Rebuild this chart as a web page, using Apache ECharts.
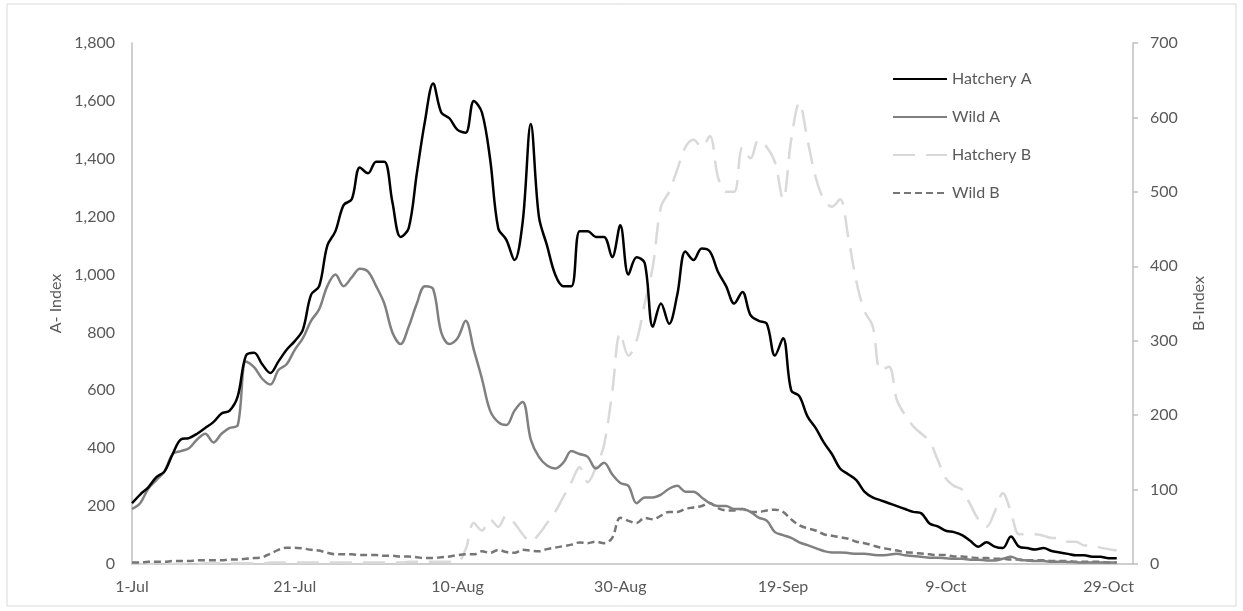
<!DOCTYPE html>
<html>
<head>
<meta charset="utf-8">
<script src="https://cdn.jsdelivr.net/npm/echarts@6/dist/echarts.min.js"></script>
<style>
html,body{margin:0;padding:0;background:#fff;}
#chart{width:1243px;height:611px;}
</style>
</head>
<body>
<div id="chart"></div>
<script>
// Daily categories 1-Jul .. 1-Nov
const months = ['Jul','Aug','Sep','Oct','Nov'];
const monthDays = [31,31,30,31,1];
const categories = [];
months.forEach(function(m,i){ for(let d=1; d<=monthDays[i]; d++){ categories.push(d+'-'+m); } });

const tickLabels = ['1-Jul','21-Jul','10-Aug','30-Aug','19-Sep','9-Oct','29-Oct'];

const hatcheryA = [210,240,265,300,320,380,430,435,450,470,490,520,530,580,720,730,690,660,700,740,
  770,810,930,960,1100,1150,1240,1260,1370,1350,1390,1390,1250,1130,1160,1350,1530,1660,1560,1540,
  1500,1490,1600,1560,1400,1160,1120,1050,1180,1520,1200,1100,1000,960,960,1150,1150,1130,1130,1060,
  1170,1000,1060,1040,820,900,830,930,1080,1050,1090,1080,1010,960,900,940,860,840,830,720,
  780,600,580,510,470,420,380,330,310,290,250,230,220,210,200,190,180,175,140,130,
  115,110,100,80,60,75,60,55,95,60,55,50,55,45,40,35,30,30,25,25,20,20];

const wildA = [190,210,260,290,320,380,390,400,430,450,420,450,470,480,700,680,640,620,670,690,
  740,780,840,880,960,1000,960,990,1020,1010,960,900,800,760,820,900,960,950,800,760,
  780,840,740,640,530,490,480,530,560,430,370,340,330,350,390,380,370,330,350,310,
  280,270,210,230,230,240,260,270,250,250,230,210,200,200,190,190,180,160,150,110,
  100,90,75,65,55,45,40,40,38,35,35,32,30,32,35,30,28,25,22,22,
  20,18,18,15,15,12,12,18,25,15,12,10,10,8,8,7,6,5,5,5,5,5];

const hatcheryB = [0,0,0,0,0,0,0,0,0,1,1,1,1,1,1,1,1,2,2,2,
  2,2,2,2,2,2,2,2,2,2,2,2,2,2,3,3,3,3,3,3,
  3,20,55,45,60,50,65,55,40,30,40,55,70,90,110,130,110,130,160,230,
  310,280,300,350,400,480,500,530,560,570,560,575,520,500,500,560,545,570,560,540,
  490,570,620,570,520,490,480,490,440,380,340,320,260,265,220,200,185,175,165,140,
  115,105,100,80,60,50,70,95,70,40,40,40,38,35,35,30,30,25,25,22,20,18];

const wildB = [2,2,3,3,3,4,4,4,5,5,5,5,6,6,7,8,9,14,19,22,
  22,21,19,18,15,13,13,13,12,12,12,11,11,10,10,9,8,8,9,10,
  12,13,13,17,15,19,16,15,19,18,17,20,22,24,26,29,28,30,28,35,
  62,58,55,62,60,65,70,70,74,76,78,82,75,72,72,74,70,70,72,73,
  70,60,52,48,45,40,38,36,34,30,28,25,22,20,18,16,15,14,13,12,
  12,10,10,9,8,8,7,7,6,6,5,5,5,4,4,4,3,3,3,3,2,2];

const FONT = 'Lato';
const TXT = '#595959';
const AXIS = '#bfbfbf';

const chart = echarts.init(document.getElementById('chart'), null, {renderer:'canvas'});
chart.setOption({
  backgroundColor:'#ffffff',
  animation:false,
  textStyle:{fontFamily:FONT},
  graphic:[{type:'rect', shape:{x:7,y:4,width:1229,height:602}, style:{fill:'none', stroke:'#d9d9d9', lineWidth:1}}],
  grid:{left:132, right:110, top:43, bottom:47},
  legend:{
    orient:'vertical', left:887, top:66, itemWidth:54, itemHeight:14, itemGap:22,
    itemStyle:{opacity:0},
    textStyle:{color:TXT, fontSize:16, fontFamily:FONT},
    data:['Hatchery A','Wild A','Hatchery B','Wild B']
  },
  xAxis:{
    type:'category', data:categories, boundaryGap:false,
    axisLine:{lineStyle:{color:AXIS, width:1.5}},
    axisTick:{show:false},
    axisLabel:{
      color:TXT, fontSize:16, margin:15, fontFamily:FONT,
      interval:function(i,v){ return tickLabels.indexOf(v) >= 0; }
    },
    splitLine:{show:false}
  },
  yAxis:[{
    type:'value', min:0, max:1800, interval:200, position:'left',
    name:'A- Index', nameLocation:'middle', nameGap:66, nameRotate:90,
    nameTextStyle:{color:TXT, fontSize:16, fontFamily:FONT},
    axisLine:{show:true, lineStyle:{color:AXIS, width:1.5}},
    axisTick:{show:false},
    axisLabel:{color:TXT, fontSize:16, margin:17, fontFamily:FONT,
      formatter:function(v){ return v.toLocaleString('en-US'); }},
    splitLine:{show:false}
  },{
    type:'value', min:0, max:700, interval:100, position:'right',
    name:'B-Index', nameLocation:'middle', nameGap:58, nameRotate:90,
    nameTextStyle:{color:TXT, fontSize:16, fontFamily:FONT},
    axisLine:{show:true, lineStyle:{color:AXIS, width:1.5}},
    axisTick:{show:true, length:5, lineStyle:{color:AXIS, width:1.5}},
    axisLabel:{color:TXT, fontSize:16, margin:17, fontFamily:FONT},
    splitLine:{show:false}
  }],
  series:[
    {name:'Hatchery A', type:'line', yAxisIndex:0, data:hatcheryA, smooth:0.35, symbol:'none',
      lineStyle:{color:'#000000', width:2.5}, itemStyle:{color:'#000000'}, z:5},
    {name:'Wild A', type:'line', yAxisIndex:0, data:wildA, smooth:0.35, symbol:'none',
      lineStyle:{color:'#808080', width:2.5}, itemStyle:{color:'#808080'}, z:4},
    {name:'Hatchery B', type:'line', yAxisIndex:1, data:hatcheryB, smooth:0.35, symbol:'none',
      lineStyle:{color:'#d9d9d9', width:2.5, type:[22,11]}, itemStyle:{color:'#d9d9d9'}, z:2},
    {name:'Wild B', type:'line', yAxisIndex:1, data:wildB, smooth:0.35, symbol:'none',
      lineStyle:{color:'#767676', width:2.5, type:[7,4]}, itemStyle:{color:'#767676'}, z:3}
  ]
});
</script>
</body>
</html>
